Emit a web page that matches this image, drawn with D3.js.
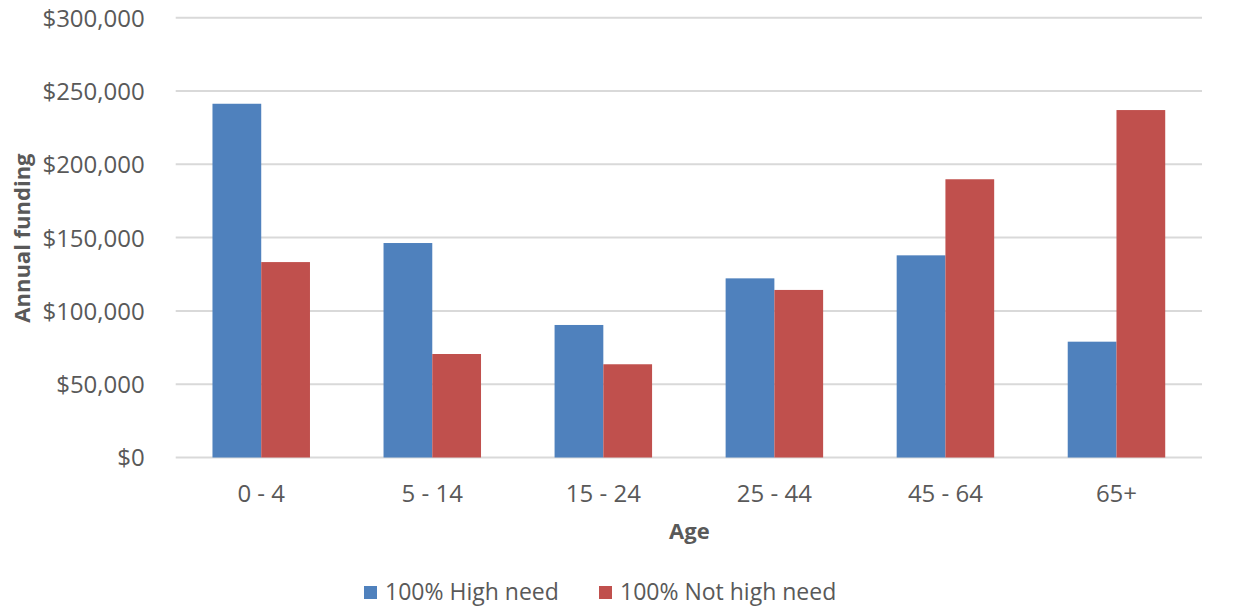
<!DOCTYPE html>
<html>
<head>
<meta charset="utf-8">
<script src="https://cdn.jsdelivr.net/npm/d3@7"></script>
<style>
  html, body { margin: 0; padding: 0; background: #ffffff; }
  svg { display: block; font-family: "Open Sans", "Noto Sans", sans-serif; }
</style>
</head>
<body>
<svg id="chart" width="1235" height="607"></svg>
<script>
const categories = ["0 - 4", "5 - 14", "15 - 24", "25 - 44", "45 - 64", "65+"];
const seriesNames = ["100% High need", "100% Not high need"];
const highNeed = [241300, 146300, 90400, 122200, 137900, 79000];
const notHighNeed = [133300, 70600, 63600, 114300, 189800, 237000];
const yTicks = [0, 50000, 100000, 150000, 200000, 250000, 300000];
const colors = ["#4F81BD", "#C0504D"];

const svg = d3.select("#chart");
const plotLeft = 175.7, plotRight = 1202, plotTop = 17.7, plotBottom = 457.5;

const x0 = d3.scaleBand().domain(categories).range([plotLeft, plotRight])
  .paddingInner(0.43).paddingOuter(0.215);
const x1 = d3.scaleBand().domain(seriesNames).range([0, x0.bandwidth()]);
const y = d3.scaleLinear().domain([0, 300000]).range([plotBottom, plotTop]);

const fmt = v => "$" + d3.format(",")(v);

// y axis labels
const yAxis = d3.axisLeft(y).tickValues(yTicks).tickFormat(fmt).tickSize(0).tickPadding(0);
const gy = svg.append("g").attr("transform", `translate(${plotLeft},0)`).call(yAxis);
gy.select(".domain").remove();
gy.selectAll("text")
  .attr("x", -31)
  .attr("dy", "0.35em")
  .attr("fill", "#595959")
  .style("font-size", "24px")
  .style("font-family", "'Open Sans', sans-serif");

// gridlines
svg.append("g").selectAll("line").data(yTicks).join("line")
  .attr("x1", plotLeft).attr("x2", plotRight)
  .attr("y1", d => y(d)).attr("y2", d => y(d))
  .attr("stroke", "#D9D9D9").attr("stroke-width", 2);

// bars
const data = categories.map((c, i) => ({ cat: c, vals: [highNeed[i], notHighNeed[i]] }));
const groups = svg.append("g").selectAll("g").data(data).join("g")
  .attr("transform", d => `translate(${x0(d.cat)},0)`);
groups.selectAll("rect").data(d => d.vals.map((v, j) => ({ v, s: seriesNames[j], j })))
  .join("rect")
  .attr("x", d => x1(d.s))
  .attr("width", x1.bandwidth())
  .attr("y", d => y(d.v))
  .attr("height", d => plotBottom - y(d.v))
  .attr("fill", d => colors[d.j]);

// x axis
const xAxis = d3.axisBottom(x0).tickSize(0).tickPadding(0);
const gx = svg.append("g").attr("transform", `translate(0,${plotBottom})`).call(xAxis);
gx.select(".domain").remove();
gx.selectAll("text")
  .attr("y", 44)
  .attr("dy", 0)
  .attr("fill", "#595959")
  .style("font-size", "24px")
  .style("font-family", "'Open Sans', sans-serif");

// axis titles
svg.append("text")
  .attr("x", (plotLeft + plotRight) / 2 + 0.5).attr("y", 539)
  .attr("text-anchor", "middle")
  .attr("fill", "#595959")
  .style("font-size", "22px").style("font-weight", "bold")
  .text("Age");

svg.append("text")
  .attr("transform", `translate(30,${(plotTop + plotBottom) / 2 + 0.5}) rotate(-90)`)
  .attr("text-anchor", "middle")
  .attr("fill", "#595959")
  .style("font-size", "22px").style("font-weight", "bold")
  .text("Annual funding");

// legend
const legendX = [364, 599];
const leg = svg.append("g").selectAll("g").data(seriesNames).join("g")
  .attr("transform", (d, i) => `translate(${legendX[i]},586)`);
leg.append("rect").attr("width", 13).attr("height", 13).attr("fill", (d, i) => colors[i]);
leg.append("text").attr("x", 21).attr("y", 14)
  .attr("fill", "#595959")
  .style("font-size", "23px")
  .text(d => d);
</script>
</body>
</html>
